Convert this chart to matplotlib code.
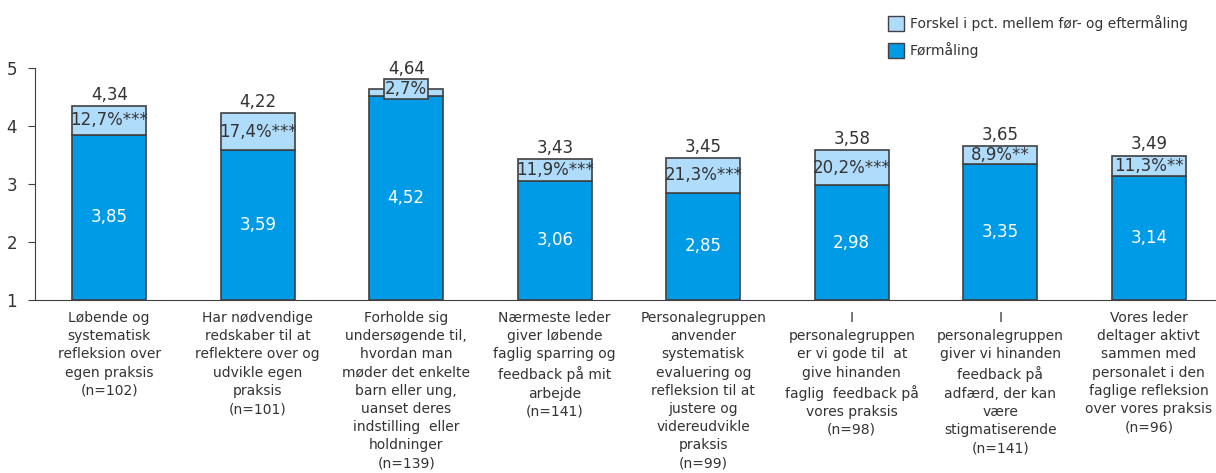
import matplotlib.pyplot as plt
from matplotlib.patches import Patch

# Daten
kategorier = [
    'Løbende og\nsystematisk\nrefleksion over\negen praksis\n(n=102)',
    'Har nødvendige\nredskaber til at\nreflektere over og\nudvikle egen\npraksis\n(n=101)',
    'Forholde sig\nundersøgende til,\nhvordan man\nmøder det enkelte\nbarn eller ung,\nuanset deres\nindstilling  eller\nholdninger\n(n=139)',
    'Nærmeste leder\ngiver løbende\nfaglig sparring og\nfeedback på mit\narbejde\n(n=141)',
    'Personalegruppen\nanvender\nsystematisk\nevaluering og\nrefleksion til at\njustere og\nvidereudvikle\npraksis\n(n=99)',
    'I\npersonalegruppen\ner vi gode til  at\ngive hinanden\nfaglig  feedback på\nvores praksis\n(n=98)',
    'I\npersonalegruppen\ngiver vi hinanden\nfeedback på\nadfærd, der kan\nvære\nstigmatiserende\n(n=141)',
    'Vores leder\ndeltager aktivt\nsammen med\npersonalet i den\nfaglige refleksion\nover vores praksis\n(n=96)',
]
formaaling = [3.85, 3.59, 4.52, 3.06, 2.85, 2.98, 3.35, 3.14]
eftermaaling = [4.34, 4.22, 4.64, 3.43, 3.45, 3.58, 3.65, 3.49]
forskel_tekst = ['12,7%***', '17,4%***', '2,7%', '11,9%***', '21,3%***',
                 '20,2%***', '8,9%**', '11,3%**']

moerk = '#009be6'
lys = '#b0dcfc'
kant = '#404040'
tekst = '#333333'

fig = plt.figure(figsize=(12.16, 4.73), dpi=100)
ax = fig.add_axes([35 / 1216, 1 - 300 / 473, 1188 / 1216, 232 / 473])

x = range(len(kategorier))
diff = [e - f for e, f in zip(eftermaaling, formaaling)]
ax.bar(x, [f - 1 for f in formaaling], bottom=1, width=0.5, color=moerk,
       edgecolor=kant, linewidth=1.2)
ax.bar(x, diff, bottom=formaaling, width=0.5, color=lys,
       edgecolor=kant, linewidth=1.2)

for i in x:
    ax.text(i, (1 + formaaling[i]) / 2, f'{formaaling[i]:.2f}'.replace('.', ','),
            ha='center', va='center', color='white', fontsize=12)
    lille = diff[i] < 0.2
    ax.annotate(f'{eftermaaling[i]:.2f}'.replace('.', ','), (i, eftermaaling[i]),
                xytext=(0, 8 if lille else 1.5), textcoords='offset points',
                ha='center', va='bottom', color=tekst, fontsize=12)
    if lille:
        ax.text(i, eftermaaling[i], forskel_tekst[i],
                ha='center', va='center', color=tekst, fontsize=12,
                bbox=dict(boxstyle='square,pad=0.05', facecolor=lys,
                          edgecolor=kant, linewidth=1.2))
    else:
        ax.text(i, formaaling[i] + diff[i] / 2, forskel_tekst[i],
                ha='center', va='center', color=tekst, fontsize=12)

ax.set_xlim(-0.5, 7.5)
ax.set_ylim(1, 5)
ax.set_yticks([1, 2, 3, 4, 5])
ax.set_xticks(list(x))
ax.set_xticklabels(kategorier, fontsize=10, color=tekst, linespacing=1.38)
ax.tick_params(axis='x', length=0, pad=8)
ax.tick_params(axis='y', labelsize=12, labelcolor=tekst, color=kant,
               length=5, pad=8)
for s in ['top', 'right']:
    ax.spines[s].set_visible(False)
ax.spines['left'].set_color(kant)
ax.spines['bottom'].set_color(kant)

handles = [Patch(facecolor=lys, edgecolor=kant, label='Forskel i pct. mellem før- og eftermåling'),
           Patch(facecolor=moerk, edgecolor=kant, label='Førmåling')]
fig.legend(handles=handles, loc='upper left', bbox_to_anchor=(875 / 1216, 1 - 3 / 473),
           frameon=False, fontsize=10, handlelength=1.2, handleheight=1.3,
           handletextpad=0.4, labelspacing=0.75, labelcolor=tekst)

fig.savefig('out.png', dpi=100)
